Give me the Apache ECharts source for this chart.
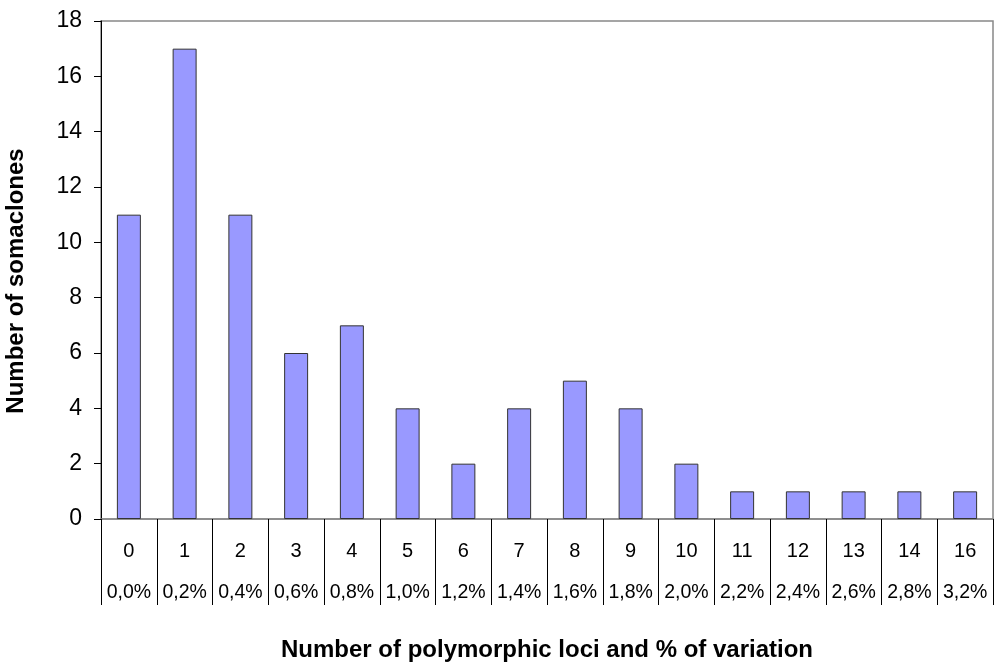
<!DOCTYPE html>
<html>
<head>
<meta charset="utf-8">
<script src="https://cdn.jsdelivr.net/npm/echarts@6/dist/echarts.min.js"></script>
<style>html,body{margin:0;padding:0;background:#fff}#c{width:1000px;height:671px}</style>
</head>
<body>
<div id="c"></div>
<script>
var categories = ['0','1','2','3','4','5','6','7','8','9','10','11','12','13','14','16'];
var percents = ['0,0%','0,2%','0,4%','0,6%','0,8%','1,0%','1,2%','1,4%','1,6%','1,8%','2,0%','2,2%','2,4%','2,6%','2,8%','3,2%'];
var values = [11,17,11,6,7,4,2,4,5,4,2,1,1,1,1,1];
var yTicks = {min:0, max:18, interval:2};

var FF = 'Liberation Sans, Arial, sans-serif';
var chart = echarts.init(document.getElementById('c'));
chart.setOption({
  animation:false,
  backgroundColor:'#fff',
  textStyle:{fontFamily:FF},
  grid:{left:101, right:7, top:21, bottom:152, outerBoundsMode:'none', containLabel:false,
        show:true, borderColor:'#888', borderWidth:1.5, backgroundColor:'transparent'},
  xAxis:{
    type:'category',
    data:categories,
    boundaryGap:true,
    axisLine:{show:true, lineStyle:{color:'#888', width:1.5}},
    axisTick:{show:true, length:86, lineStyle:{color:'#000', width:1}},
    axisLabel:{
      margin:12,
      interval:0,
      color:'#000',
      formatter:function(v, i){ return '{a|' + v + '}\n{b|' + percents[i] + '}'; },
      rich:{
        a:{fontSize:20, lineHeight:41, color:'#000', fontFamily:FF},
        b:{fontSize:19.5, lineHeight:41, color:'#000', fontFamily:FF}
      }
    },
    name:'Number of polymorphic loci and % of variation',
    nameLocation:'middle',
    nameGap:119,
    nameTextStyle:{fontSize:24, fontWeight:'bold', color:'#000', fontFamily:FF}
  },
  yAxis:{
    type:'value',
    min:yTicks.min, max:yTicks.max, interval:yTicks.interval,
    axisLine:{show:true, lineStyle:{color:'#000', width:1}},
    axisTick:{show:true, length:7, lineStyle:{color:'#000'}},
    splitLine:{show:false},
    axisLabel:{fontSize:23, color:'#000', margin:19, fontFamily:FF},
    name:'Number of somaclones',
    nameLocation:'middle',
    nameGap:73,
    nameTextStyle:{fontSize:24, fontWeight:'bold', color:'#000', fontFamily:FF, padding:[0,22,0,0]}
  },
  series:[{
    type:'bar',
    data:values,
    barWidth:'43%',
    itemStyle:{color:'#9999ff', borderColor:'#333', borderWidth:1}
  }]
});
</script>
</body>
</html>
